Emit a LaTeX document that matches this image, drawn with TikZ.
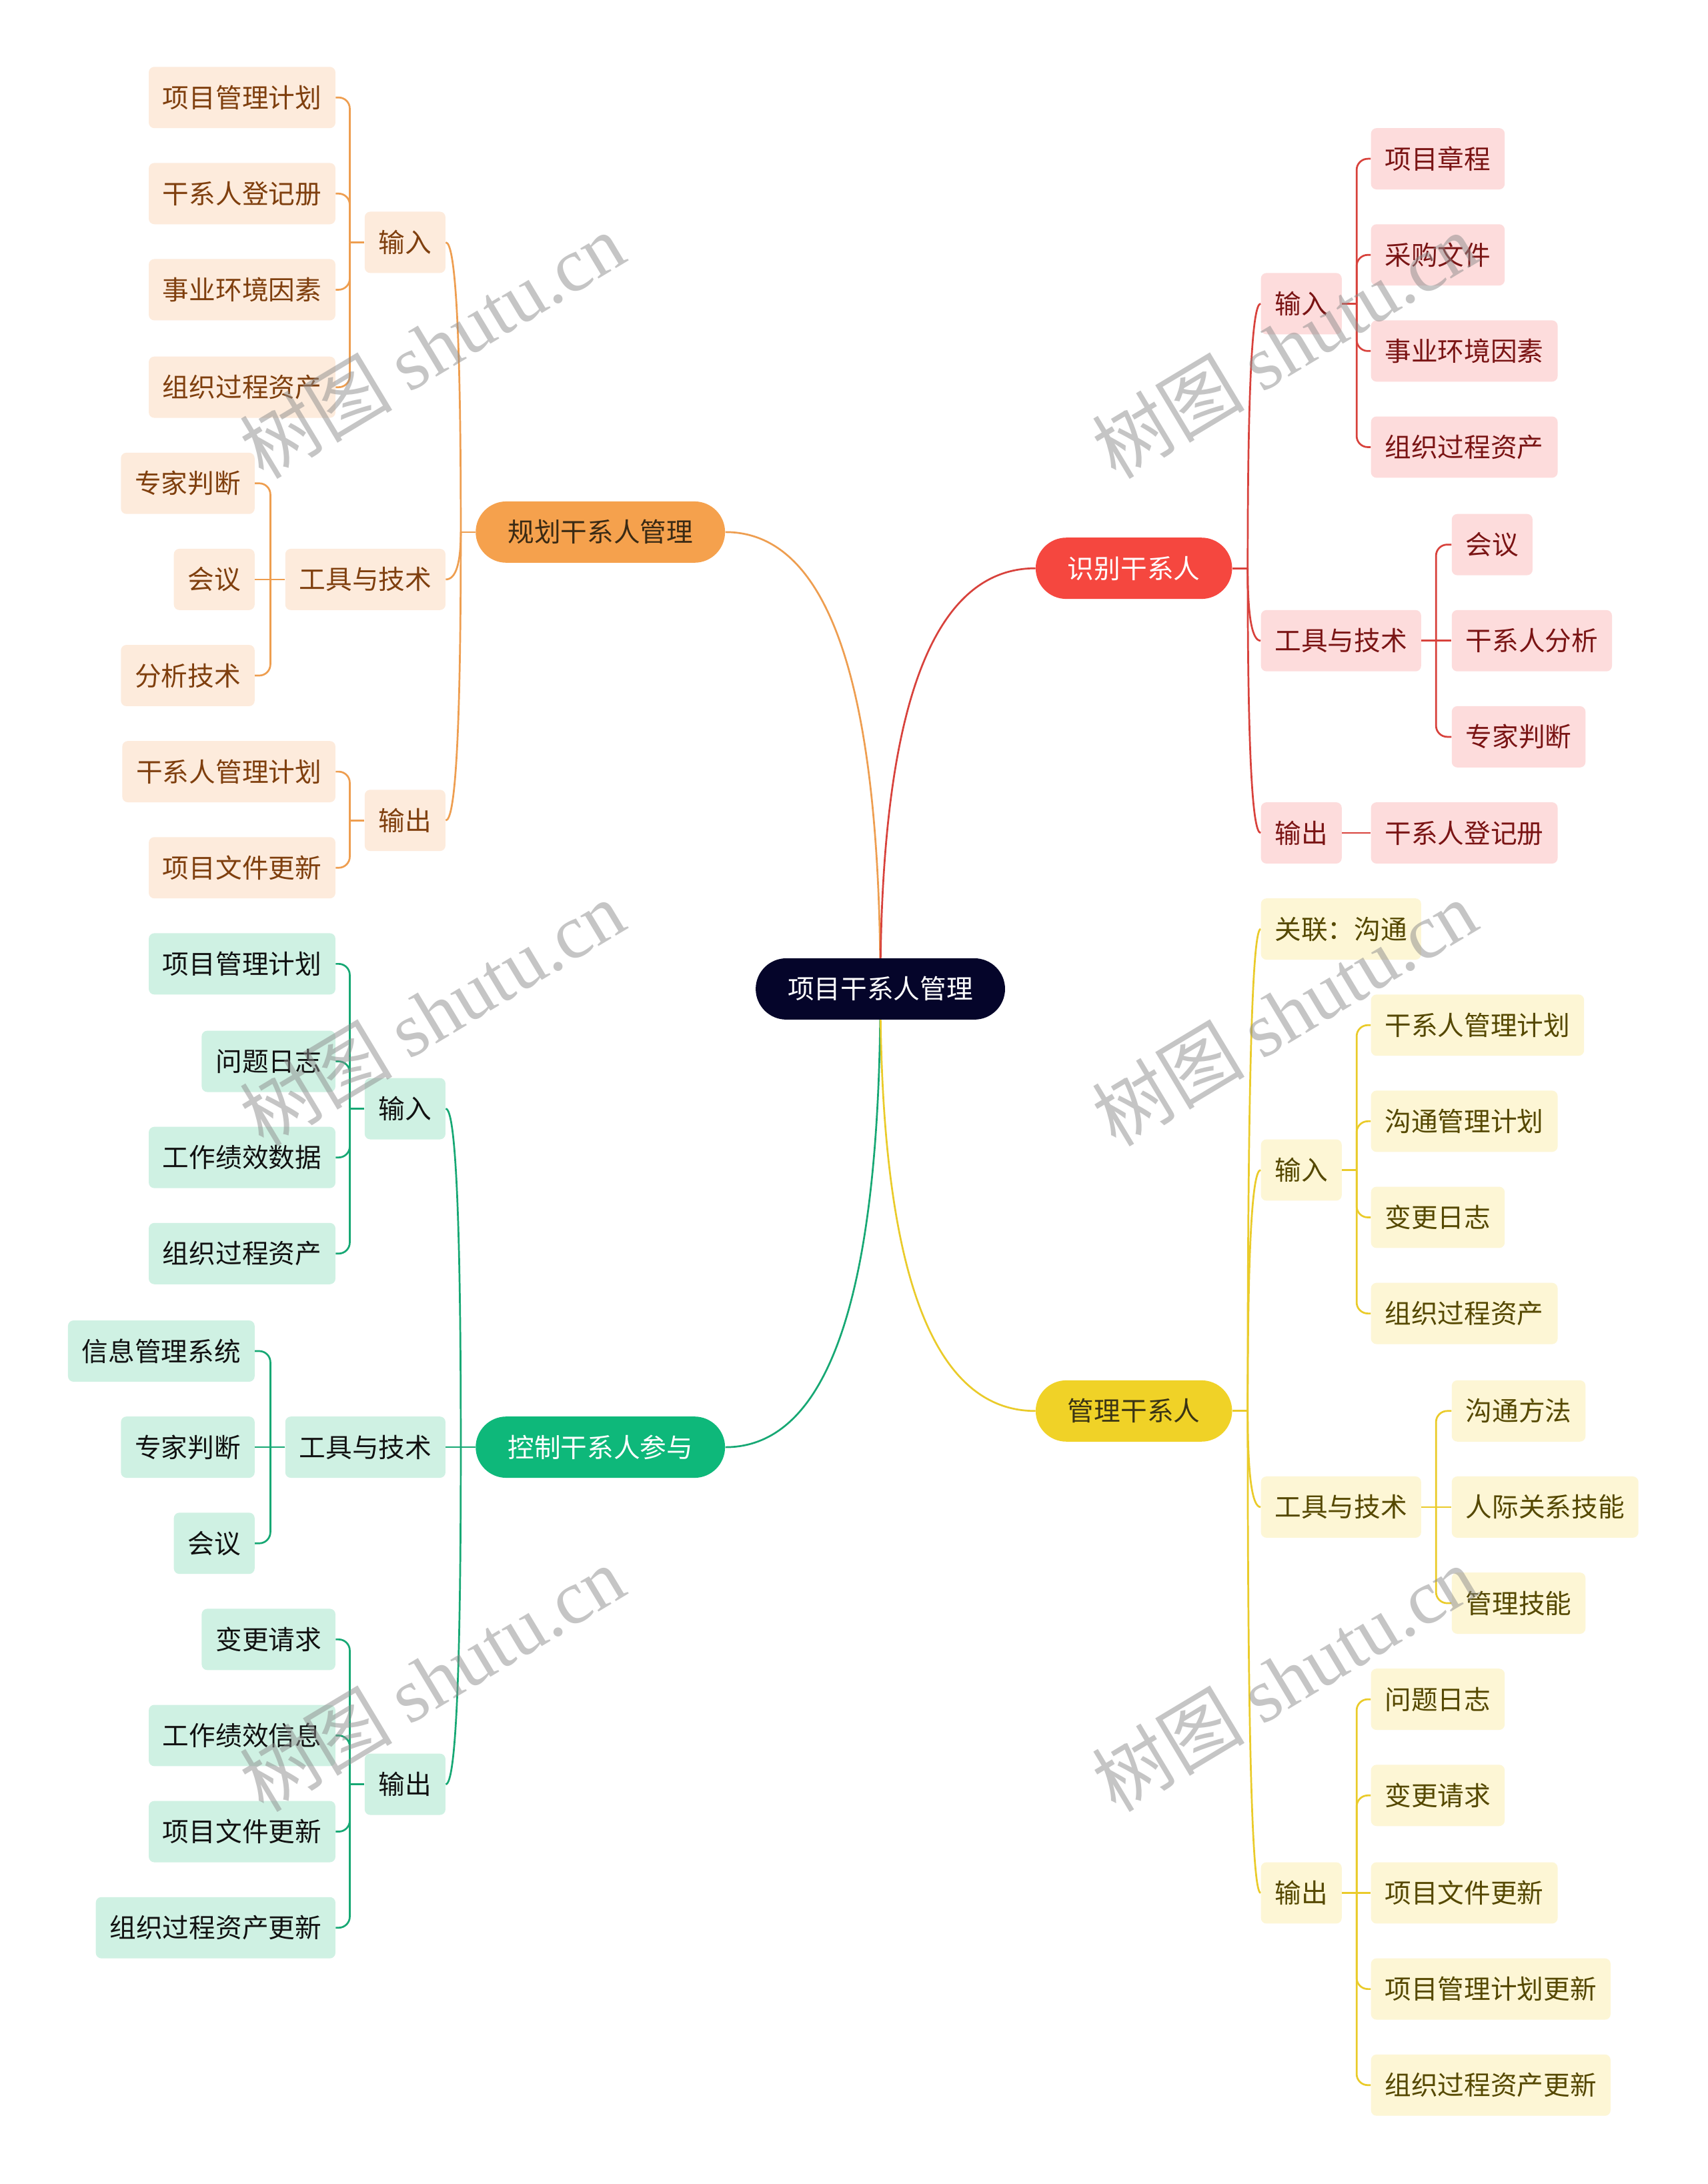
\documentclass[tikz,border=0pt]{standalone}
\usepackage{fontspec}
\setmainfont{Noto Sans CJK SC}
\newfontfamily\wmserif{Liberation Serif}
\usetikzlibrary{calc,backgrounds}

\definecolor{rootF}{HTML}{05052A}
\definecolor{oMain}{HTML}{F5A14D}
\definecolor{oMainT}{HTML}{3A2A14}
\definecolor{oSub}{HTML}{FDEBDC}
\definecolor{oSubT}{HTML}{7F3F0E}
\definecolor{oLine}{HTML}{EE9E50}
\definecolor{rMain}{HTML}{F5473F}
\definecolor{rSub}{HTML}{FDDCDC}
\definecolor{rSubT}{HTML}{7A1414}
\definecolor{rLine}{HTML}{D8423C}
\definecolor{yMain}{HTML}{F0D227}
\definecolor{yMainT}{HTML}{3A3414}
\definecolor{ySub}{HTML}{FDF6D5}
\definecolor{ySubT}{HTML}{554800}
\definecolor{yLine}{HTML}{EACB2A}
\definecolor{gMain}{HTML}{0EB87A}
\definecolor{gSub}{HTML}{CFF1E3}
\definecolor{gSubT}{HTML}{111111}
\definecolor{gLine}{HTML}{17A874}

\newcommand\curveconn[3]{\draw[#1] (#2) .. controls ($(#2)!0.6667!(#2 |- #3)$) and ($(#3)!0.6667!(#2 |- #3)$) .. (#3);}

\tikzset{
  base/.style={font=\fontsize{19}{22}\selectfont, minimum height=44pt, inner ysep=0pt, text height=16pt, text depth=1.6pt},
  mainn/.style={base, rounded corners=22pt, inner xsep=23pt},
  subn/.style={base, rounded corners=4pt, inner xsep=10pt},
  rootn/.style={mainn, fill=rootF, text=white},
  osub/.style={subn, fill=oSub, text=oSubT},
  rsub/.style={subn, fill=rSub, text=rSubT},
  ysub/.style={subn, fill=ySub, text=ySubT},
  gsub/.style={subn, fill=gSub, text=gSubT},
  oline/.style={draw=oLine, line width=1.3pt},
  rline/.style={draw=rLine, line width=1.3pt},
  yline/.style={draw=yLine, line width=1.3pt},
  gline/.style={draw=gLine, line width=1.3pt},
  elb/.style={rounded corners=8pt},
  wm/.style={text=black!45, opacity=0.5, rotate=31, font=\fontsize{55}{60}\selectfont, inner sep=0pt}
}

\begin{document}
\begin{tikzpicture}[x=1pt,y=-1pt]
\useasboundingbox (0,0) rectangle (1226,1568);

% root
\node[rootn] (root) at (632,710) {项目干系人管理};

% ---------- orange ----------
\node[mainn, fill=oMain, text=oMainT] (om) at (431,382) {规划干系人管理};
\node[osub, anchor=east] (oi) at (320,174) {输入};
\node[osub, anchor=east] (ot) at (320,416) {工具与技术};
\node[osub, anchor=east] (oo) at (320,589) {输出};
\node[osub, anchor=east] (oi1) at (241,70) {项目管理计划};
\node[osub, anchor=east] (oi2) at (241,139) {干系人登记册};
\node[osub, anchor=east] (oi3) at (241,208) {事业环境因素};
\node[osub, anchor=east] (oi4) at (241,278) {组织过程资产};
\node[osub, anchor=east] (ot1) at (183,347) {专家判断};
\node[osub, anchor=east] (ot2) at (183,416) {会议};
\node[osub, anchor=east] (ot3) at (183,485) {分析技术};
\node[osub, anchor=east] (oo1) at (241,554) {干系人管理计划};
\node[osub, anchor=east] (oo2) at (241,623) {项目文件更新};

% ---------- green ----------
\node[mainn, fill=gMain, text=white] (gm) at (431,1039) {控制干系人参与};
\node[gsub, anchor=east] (gi) at (320,796) {输入};
\node[gsub, anchor=east] (gt) at (320,1039) {工具与技术};
\node[gsub, anchor=east] (go) at (320,1281) {输出};
\node[gsub, anchor=east] (gi1) at (241,692) {项目管理计划};
\node[gsub, anchor=east] (gi2) at (241,762) {问题日志};
\node[gsub, anchor=east] (gi3) at (241,831) {工作绩效数据};
\node[gsub, anchor=east] (gi4) at (241,900) {组织过程资产};
\node[gsub, anchor=east] (gt1) at (183,970) {信息管理系统};
\node[gsub, anchor=east] (gt2) at (183,1039) {专家判断};
\node[gsub, anchor=east] (gt3) at (183,1108) {会议};
\node[gsub, anchor=east] (go1) at (241,1177) {变更请求};
\node[gsub, anchor=east] (go2) at (241,1246) {工作绩效信息};
\node[gsub, anchor=east] (go3) at (241,1315) {项目文件更新};
\node[gsub, anchor=east] (go4) at (241,1384) {组织过程资产更新};

% ---------- red ----------
\node[mainn, fill=rMain, text=white] (rm) at (814,408) {识别干系人};
\node[rsub, anchor=west] (ri) at (905,218) {输入};
\node[rsub, anchor=west] (rt) at (905,460) {工具与技术};
\node[rsub, anchor=west] (ro) at (905,598) {输出};
\node[rsub, anchor=west] (ri1) at (984,114) {项目章程};
\node[rsub, anchor=west] (ri2) at (984,183) {采购文件};
\node[rsub, anchor=west] (ri3) at (984,252) {事业环境因素};
\node[rsub, anchor=west] (ri4) at (984,321) {组织过程资产};
\node[rsub, anchor=west] (rt1) at (1042,391) {会议};
\node[rsub, anchor=west] (rt2) at (1042,460) {干系人分析};
\node[rsub, anchor=west] (rt3) at (1042,529) {专家判断};
\node[rsub, anchor=west] (ro1) at (984,598) {干系人登记册};

% ---------- yellow ----------
\node[mainn, fill=yMain, text=yMainT] (ym) at (814,1013) {管理干系人};
\node[ysub, anchor=west] (yr) at (905,667) {关联：沟通};
\node[ysub, anchor=west] (yi) at (905,840) {输入};
\node[ysub, anchor=west] (yt) at (905,1082) {工具与技术};
\node[ysub, anchor=west] (yo) at (905,1359) {输出};
\node[ysub, anchor=west] (yi1) at (984,736) {干系人管理计划};
\node[ysub, anchor=west] (yi2) at (984,805) {沟通管理计划};
\node[ysub, anchor=west] (yi3) at (984,874) {变更日志};
\node[ysub, anchor=west] (yi4) at (984,943) {组织过程资产};
\node[ysub, anchor=west] (yt1) at (1042,1013) {沟通方法};
\node[ysub, anchor=west] (yt2) at (1042,1082) {人际关系技能};
\node[ysub, anchor=west] (yt3) at (1042,1151) {管理技能};
\node[ysub, anchor=west] (yo1) at (984,1220) {问题日志};
\node[ysub, anchor=west] (yo2) at (984,1289) {变更请求};
\node[ysub, anchor=west] (yo3) at (984,1359) {项目文件更新};
\node[ysub, anchor=west] (yo4) at (984,1428) {项目管理计划更新};
\node[ysub, anchor=west] (yo5) at (984,1497) {组织过程资产更新};

\begin{scope}[on background layer]
\fill[white] (0,0) rectangle (1226,1568);
% main connectors
\curveconn{oline}{root.center}{om.east}
\curveconn{rline}{root.center}{rm.west}
\curveconn{gline}{root.center}{gm.east}
\curveconn{yline}{root.center}{ym.west}

% junctions level 1
\coordinate (omj) at ($(om.west)+(-10.5,0)$);
\coordinate (gmj) at ($(gm.west)+(-10.5,0)$);
\coordinate (rmj) at ($(rm.east)+(11,0)$);
\coordinate (ymj) at ($(ym.east)+(11,0)$);
\draw[oline] (om.west) -- (omj);
\draw[rline] (rm.east) -- (rmj);
\draw[yline] (ym.east) -- (ymj);
\curveconn{oline}{omj}{oi.east}
\curveconn{oline}{omj}{ot.east}
\curveconn{oline}{omj}{oo.east}
\curveconn{gline}{gmj}{gi.east}
\draw[gline] (gm.west) -- (gt.east);
\curveconn{gline}{gmj}{go.east}
\curveconn{rline}{rmj}{ri.west}
\curveconn{rline}{rmj}{rt.west}
\curveconn{rline}{rmj}{ro.west}
\curveconn{yline}{ymj}{yr.west}
\curveconn{yline}{ymj}{yi.west}
\curveconn{yline}{ymj}{yt.west}
\curveconn{yline}{ymj}{yo.west}

% junctions level 2 (left)
\foreach \p/\st/\kids in {oi/oline/{oi1,oi2,oi3,oi4}, ot/oline/{ot1,ot3}, oo/oline/{oo1,oo2},
                          gi/gline/{gi1,gi2,gi3,gi4}, gt/gline/{gt1,gt3}, go/gline/{go1,go2,go3,go4}}{
  \coordinate (\p j) at ($(\p.west)+(-10.5,0)$);
  \draw[\st] (\p.west) -- (\p j);
  \foreach \c in \kids { \draw[\st, elb] (\p j) |- (\c.east); }
}
\draw[oline] (ot.west) -- (ot2.east);
\draw[gline] (gt.west) -- (gt2.east);
% junctions level 2 (right)
\foreach \p/\st/\kids in {ri/rline/{ri1,ri2,ri3,ri4}, rt/rline/{rt1,rt3},
                          yi/yline/{yi1,yi2,yi3,yi4}, yt/yline/{yt1,yt3}, yo/yline/{yo1,yo2,yo4,yo5}}{
  \coordinate (\p j) at ($(\p.east)+(10.5,0)$);
  \draw[\st] (\p.east) -- (\p j);
  \foreach \c in \kids { \draw[\st, elb] (\p j) |- (\c.west); }
}
\draw[rline] (rt.east) -- (rt2.west);
\draw[rline] (ro.east) -- (ro1.west);
\draw[yline] (yt.east) -- (yt2.west);
\draw[yline] (yo.east) -- (yo3.west);
\end{scope}

% watermarks
\node[wm] (wm1) at (310,248) {树图 {\wmserif shutu.cn}};
\node[wm] (wm2) at (310,727) {树图 {\wmserif shutu.cn}};
\node[wm] (wm3) at (310,1205) {树图 {\wmserif shutu.cn}};
\node[wm] (wm4) at (922,248) {树图 {\wmserif shutu.cn}};
\node[wm] (wm5) at (922,727) {树图 {\wmserif shutu.cn}};
\node[wm] (wm6) at (922,1205) {树图 {\wmserif shutu.cn}};
\end{tikzpicture}
\end{document}
